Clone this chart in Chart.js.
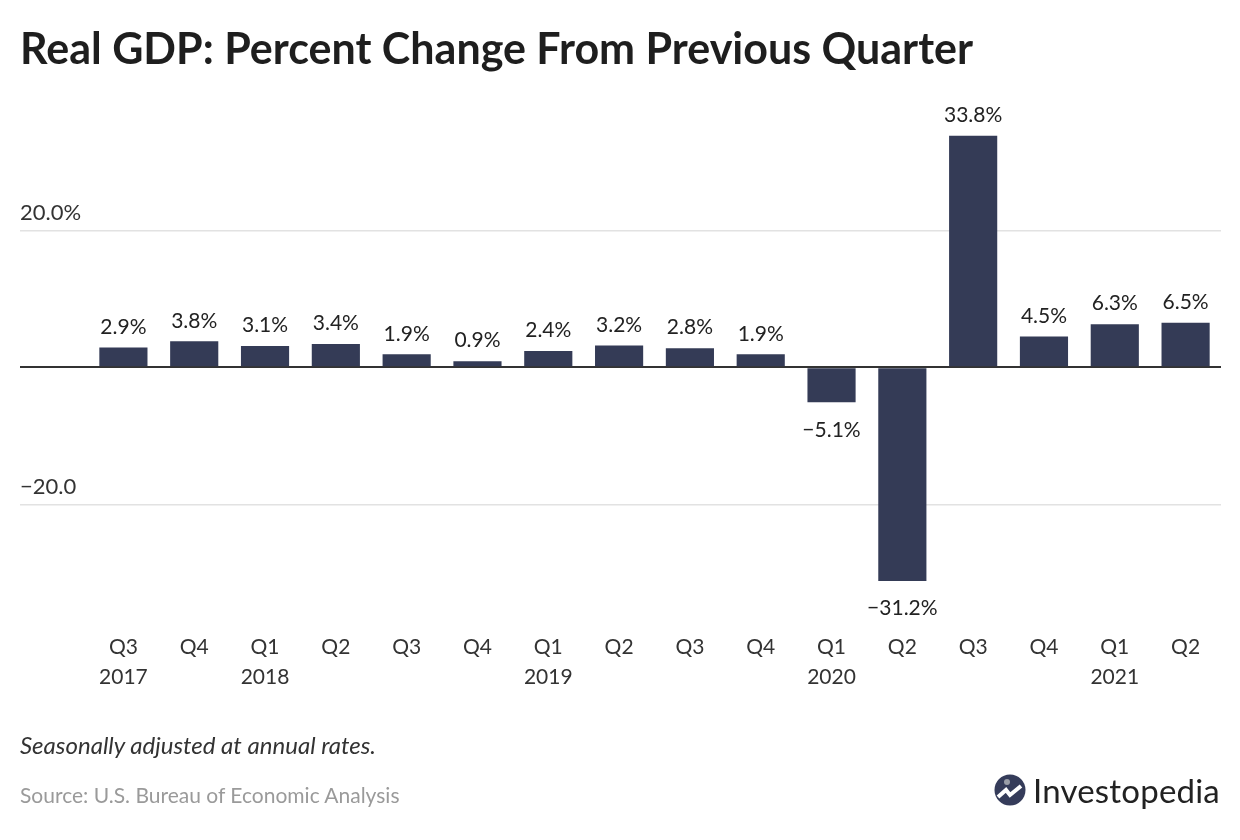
<!DOCTYPE html>
<html>
<head>
<meta charset="utf-8">
<script src="https://cdn.jsdelivr.net/npm/chart.js@4"></script>
<style>
  body { margin: 0; background: #fff; }
  #wrap { position: relative; width: 1240px; height: 840px; overflow: hidden; font-family: Lato, "Noto Sans", sans-serif; }
  #wrap canvas { position: absolute; left: 0; top: 0; }
  .title { position: absolute; left: 20px; top: 22px; font-size: 43px; font-weight: 700; color: #1e1e1e; white-space: nowrap; }
  .note { position: absolute; left: 20px; top: 730px; font-size: 24px; font-style: italic; color: #333; white-space: nowrap; }
  .source { position: absolute; left: 20px; top: 782px; font-size: 21px; color: #9a9a9a; white-space: nowrap; }
  .logo { position: absolute; left: 994px; top: 770px; display: flex; align-items: center; }
  .logo span { font-size: 33px; color: #222; margin-left: 7px; letter-spacing: 0.2px; }
</style>
</head>
<body>
<div id="wrap">
  <canvas id="gdpChart" width="1240" height="840"></canvas>
  <div class="title">Real GDP: Percent Change From Previous Quarter</div>
  <div class="note">Seasonally adjusted at annual rates.</div>
  <div class="source">Source: U.S. Bureau of Economic Analysis</div>
  <div class="logo">
    <svg width="32" height="32" viewBox="0 0 32 32">
      <circle cx="16" cy="16" r="15.5" fill="#353c5a"/>
      <path d="M4 23 L12 16 L16 21 L27 12" stroke="#fff" stroke-width="4" fill="none" stroke-linejoin="miter"/>
      <circle cx="13" cy="8" r="3" fill="#9a9ea8"/>
    </svg>
    <span>Investopedia</span>
  </div>
</div>
<script>
// Trimestres et variations du PIB réel (%)
const quarters = ['Q3', 'Q4', 'Q1', 'Q2', 'Q3', 'Q4', 'Q1', 'Q2', 'Q3', 'Q4', 'Q1', 'Q2', 'Q3', 'Q4', 'Q1', 'Q2'];
const years = ['2017', '', '2018', '', '', '', '2019', '', '', '', '2020', '', '', '', '2021', ''];
const gdpChange = [2.9, 3.8, 3.1, 3.4, 1.9, 0.9, 2.4, 3.2, 2.8, 1.9, -5.1, -31.2, 33.8, 4.5, 6.3, 6.5];
const yTicks = [-20, 0, 20];
const yTickLabels = ['\u221220.0', '', '20.0%'];

const fmt = v => (v < 0 ? '\u2212' : '') + Math.abs(v).toFixed(1) + '%';

// Etiquettes de valeur au-dessus / en dessous des barres
const valueLabels = {
    id: 'valueLabels',
    afterDatasetsDraw(chart) {
        const ctx = chart.ctx;
        const meta = chart.getDatasetMeta(0);
        ctx.save();
        ctx.font = '21px Lato, "Noto Sans", sans-serif';
        ctx.fillStyle = '#222';
        ctx.textAlign = 'center';
        meta.data.forEach((bar, i) => {
            const v = gdpChange[i];
            if (v >= 0) {
                ctx.textBaseline = 'bottom';
                ctx.fillText(fmt(v), bar.x, bar.y - 10);
            } else {
                ctx.textBaseline = 'top';
                ctx.fillText(fmt(v), bar.x, bar.y + 17);
            }
        });
        ctx.restore();
    }
};

const ctx = document.getElementById('gdpChart').getContext('2d');
new Chart(ctx, {
    type: 'bar',
    data: {
        labels: quarters.map((q, i) => [q, years[i]]),
        datasets: [{
            data: gdpChange,
            backgroundColor: '#343b56',
            barPercentage: 0.68,
            categoryPercentage: 1
        }]
    },
    options: {
        responsive: false,
        animation: false,
        layout: { padding: { left: 20, right: 19, top: 107, bottom: 130 } },
        plugins: {
            legend: { display: false },
            tooltip: { enabled: false }
        },
        scales: {
            x: {
                grid: { display: false, drawTicks: false },
                border: { display: false },
                ticks: {
                    padding: 18,
                    color: '#333',
                    font: { family: 'Lato, "Noto Sans", sans-serif', size: 21, lineHeight: 1.43 },
                    maxRotation: 0
                },
                afterFit: s => { s.height = 96; }
            },
            y: {
                min: -36,
                max: 38,
                border: { display: false },
                afterBuildTicks: s => { s.ticks = yTicks.map(v => ({ value: v })); },
                afterFit: s => { s.width = 68; },
                grid: {
                    color: c => c.tick && c.tick.value === 0 ? '#333' : '#e2e2e2',
                    lineWidth: c => c.tick && c.tick.value === 0 ? 2 : 1.5,
                    drawTicks: true,
                    tickLength: 68
                },
                ticks: {
                    crossAlign: 'far',
                    labelOffset: -17,
                    color: '#333',
                    font: { family: 'Lato, "Noto Sans", sans-serif', size: 22 },
                    callback: (v) => yTickLabels[yTicks.indexOf(v)]
                }
            }
        }
    },
    plugins: [valueLabels]
});
</script>
</body>
</html>
